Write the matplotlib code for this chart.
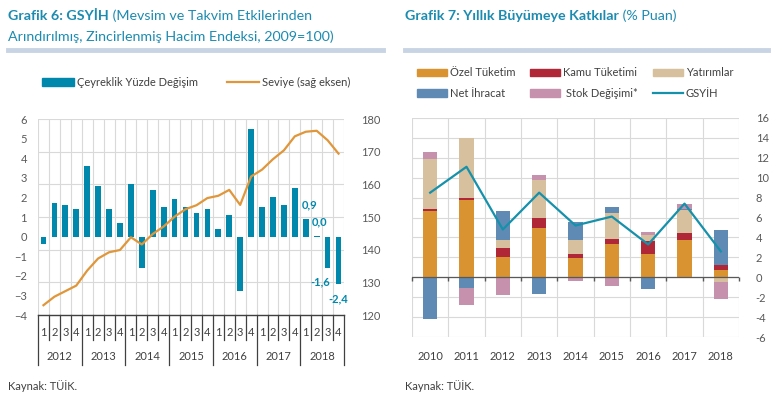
import numpy as np
import matplotlib
matplotlib.use("Agg")
import matplotlib.pyplot as plt
from matplotlib.patches import Patch
from matplotlib.lines import Line2D
from matplotlib.text import Annotation
from matplotlib.transforms import blended_transform_factory

plt.rcParams['font.family'] = ['Lato', 'DejaVu Sans']

# ---------------- data: chart 6 ----------------
years6 = ['2012', '2013', '2014', '2015', '2016', '2017', '2018']
quarters = ['1', '2', '3', '4']
qoq_change = [-0.4, 1.7, 1.6, 1.4, 3.6, 2.6, 1.4, 0.7,
              2.7, -1.6, 2.4, 1.5, 1.9, 1.5, 1.2, 1.4,
              0.4, 1.1, -2.8, 5.5, 1.5, 2.0, 1.6, 2.5,
              0.9, 0.05, -1.6, -2.4]
level = [123.0, 125.6, 127.3, 129.0, 133.6, 137.3, 139.2, 139.9,
         143.8, 141.6, 144.8, 147.1, 150.1, 152.4, 153.6, 155.8,
         156.5, 158.3, 153.7, 162.4, 164.5, 167.7, 170.4, 174.7,
         176.1, 176.4, 173.5, 169.4]
value_labels = ['0,9', '0,0', '-1,6', '-2,4']   # last four quarters
left_ticks = [-4, -3, -2, -1, 0, 1, 2, 3, 4, 5, 6]
right_ticks = [120, 130, 140, 150, 160, 170, 180]

# ---------------- data: chart 7 ----------------
years7 = ['2010', '2011', '2012', '2013', '2014', '2015', '2016', '2017', '2018']
ozel = [6.7, 7.8, 2.0, 4.9, 1.9, 3.3, 2.3, 3.7, 0.7]
kamu = [0.2, 0.2, 0.9, 1.1, 0.4, 0.5, 1.3, 0.7, 0.5]
yatirim = [5.0, 6.0, 0.8, 3.8, 1.4, 2.7, 0.6, 2.4, -0.5]
net_ihracat = [-4.2, -1.1, 3.0, -1.7, 1.9, 0.6, -1.2, 0.1, 3.5]
stok = [0.7, -1.7, -1.8, 0.5, -0.4, -0.9, 0.3, 0.5, -1.7]
gsyih = [8.5, 11.1, 4.8, 8.5, 5.2, 6.1, 3.3, 7.4, 2.6]
ticks7 = [-6, -4, -2, 0, 2, 4, 6, 8, 10, 12, 14, 16]

TEAL = '#0088AC'
ORANGE = '#E0963A'
TITLE_C = '#1C8BB0'
TXT = '#404040'
GRID = '#D9D9D9'

W, H = 783, 408
fig = plt.figure(figsize=(W / 100, H / 100), dpi=100)


def fx(px):
    return px / W


def fy(py):
    return 1 - py / H


TS = 10.3


# ---------------- titles ----------------
def title(x, y, bold, normal):
    t = fig.text(fx(x), fy(y), bold, fontsize=TS, fontweight='bold',
                 color=TITLE_C, va='center', ha='left')
    a = Annotation(normal, xy=(1, 0.5), xycoords=t, fontsize=TS,
                   color=TITLE_C, va='center', ha='left', annotation_clip=False)
    fig.add_artist(a)
    return t


title(8, 16, 'Grafik 6: GSYİH', ' (Mevsim ve Takvim Etkilerinden')
fig.text(fx(8), fy(37), 'Arındırılmış, Zincirlenmiş Hacim Endeksi, 2009=100)',
         fontsize=TS, color=TITLE_C, va='center', ha='left')
title(405, 16, 'Grafik 7: Yıllık Büyümeye Katkılar', ' (% Puan)')

fig.add_artist(Line2D([fx(8), fx(383)], [fy(50), fy(50)], color='#C8D4E3', lw=3.5))
fig.add_artist(Line2D([fx(405), fx(768)], [fy(50), fy(50)], color='#C8D4E3', lw=3.5))

fig.text(fx(8), fy(386), 'Kaynak: TÜİK.', fontsize=8, color=TXT, va='center')
fig.text(fx(405), fy(386), 'Kaynak: TÜİK.', fontsize=8, color=TXT, va='center')

# ---------------- chart 6 ----------------
L, R, T, B = 38, 344, 119, 315
ax = fig.add_axes([fx(L), fy(B), fx(R - L), (B - T) / H])
ax2 = ax.twinx()
n = len(qoq_change)
x = np.arange(n)
ax.set_xlim(-0.5, n - 0.5)
ax.set_ylim(left_ticks[0], left_ticks[-1])
ax2.set_ylim(right_ticks[0], right_ticks[-1])

# horizontal grid aligned with right axis ticks
lo, hi = left_ticks[0], left_ticks[-1]
rlo, rhi = right_ticks[0], right_ticks[-1]
for v in right_ticks:
    g = lo + (v - rlo) / (rhi - rlo) * (hi - lo)
    ax.axhline(g, color=GRID, lw=0.8, zorder=0)
for b in np.arange(-0.5, n, 1.0):
    ax.axvline(b, color=GRID, lw=0.8, zorder=0)

ax.bar(x, qoq_change, width=0.52, color=TEAL, zorder=2)
ax2.plot(x, level, color=ORANGE, lw=1.6, zorder=3)

ax.set_yticks(left_ticks)
ax2.set_yticks(right_ticks)
ax.tick_params(axis='y', length=0, pad=8, labelsize=8, labelcolor='#595959')
ax2.tick_params(axis='y', length=0, pad=12, labelsize=8, labelcolor='#595959')
ax.set_xticks([])
for s in ['top', 'left', 'right']:
    ax.spines[s].set_visible(False)
    ax2.spines[s].set_visible(False)
ax2.spines['bottom'].set_visible(False)
ax.spines['bottom'].set_color('#404040')
ax.spines['bottom'].set_linewidth(1.0)

# category axis below
tr = blended_transform_factory(ax.transData, ax.transAxes)
hgt = B - T
for k, b in enumerate(np.arange(-0.5, n, 1.0)):
    low = (340 - B) if k % 4 else (365 - B)
    ax.plot([b, b], [0, -low / hgt], color='#404040', lw=0.9, transform=tr,
            clip_on=False)
for i in range(n):
    ax.text(i, -(332 - B) / hgt, quarters[i % 4], transform=tr, ha='center',
            va='center', fontsize=8, color=TXT)
for j, yr in enumerate(years6):
    ax.text(4 * j + 1.5, -(356 - B) / hgt, yr, transform=tr, ha='center',
            va='center', fontsize=8, color=TXT)

offsets = [(3, 10), (2, 10), (-5, -10), (0, -11)]
for k, (lab, off) in enumerate(zip(value_labels, offsets)):
    i = n - len(value_labels) + k
    ax.annotate(lab, xy=(i, qoq_change[i]), xytext=off, textcoords='offset points',
                ha='center', va='center', fontsize=8, fontweight='bold', color=TEAL,
                zorder=5)

fig.legend(handles=[Patch(color=TEAL, label='Çeyreklik Yüzde Değişim'),
                    Line2D([], [], color=ORANGE, lw=1.6, label='Seviye (sağ eksen)')],
           loc='center left', bbox_to_anchor=(fx(42), fy(82)), ncol=2,
           frameon=False, fontsize=8, handlelength=2.9, handleheight=0.7,
           handletextpad=0.25, columnspacing=2.6, labelcolor=TXT,
           borderpad=0, borderaxespad=0)

# ---------------- chart 7 ----------------
L7, R7, T7, B7 = 412, 739, 118, 337
bx = fig.add_axes([fx(L7), fy(B7), fx(R7 - L7), (B7 - T7) / H])
m = len(years7)
xx = np.arange(m)
bx.set_xlim(-0.5, m - 0.5)
bx.set_ylim(ticks7[0], ticks7[-1])
for v in ticks7:
    bx.axhline(v, color=GRID, lw=0.8, zorder=0)
for b in np.arange(-0.5, m, 1.0):
    bx.axvline(b, color=GRID, lw=0.8, zorder=0)

series = [(ozel, '#DA9331', 'Özel Tüketim'),
          (kamu, '#B02838', 'Kamu Tüketimi'),
          (yatirim, '#D6C09E', 'Yatırımlar'),
          (net_ihracat, '#5F8AB4', 'Net İhracat'),
          (stok, '#C591AC', ' Stok Değişimi*')]
pos = np.zeros(m)
neg = np.zeros(m)
handles = {}
for vals, col, lab in series:
    v = np.array(vals, dtype=float)
    bottom = np.where(v >= 0, pos, neg)
    bx.bar(xx, v, bottom=bottom, width=0.4, color=col, zorder=2)
    pos = pos + np.where(v >= 0, v, 0)
    neg = neg + np.where(v < 0, v, 0)
    handles[lab] = Patch(color=col, label=lab)
bx.plot(xx, gsyih, color='#1591AB', lw=1.6, zorder=4)
handles['GSYİH'] = Line2D([], [], color='#1591AB', lw=1.6, label='GSYİH')

bx.axhline(0, color='#595959', lw=0.9, zorder=3)
bx.plot(np.arange(-0.5, m, 1.0), np.zeros(m + 1), ls='none', marker=3,
        markersize=3, color='#595959', zorder=3, clip_on=False)

bx.yaxis.tick_right()
bx.set_yticks(ticks7)
bx.set_yticklabels([str(t) for t in ticks7])
for lbl in bx.get_yticklabels():
    lbl.set_horizontalalignment('left')
bx.tick_params(axis='y', length=0, pad=12, labelsize=8, labelcolor='#595959')
bx.set_xticks(xx)
bx.set_xticklabels(years7)
bx.tick_params(axis='x', length=0, pad=10, labelsize=8, labelcolor=TXT)
for s in bx.spines.values():
    s.set_visible(False)

order = ['Özel Tüketim', 'Net İhracat', 'Kamu Tüketimi', ' Stok Değişimi*',
         'Yatırımlar', 'GSYİH']
fig.legend(handles=[handles[k] for k in order], loc='center left',
           bbox_to_anchor=(fx(417), fy(83)), ncol=3, frameon=False, fontsize=8,
           handlelength=2.7, handleheight=0.7, handletextpad=0.25,
           columnspacing=1.35, labelcolor=TXT, borderpad=0, borderaxespad=0,
           labelspacing=0.85)

fig.savefig('out.png', dpi=100)
